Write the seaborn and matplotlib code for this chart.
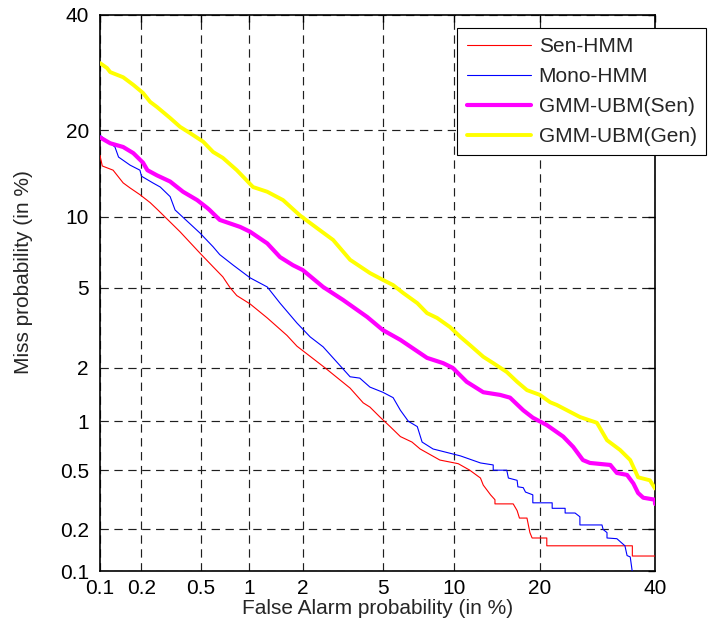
import numpy as np
import pandas as pd
import matplotlib
matplotlib.use("Agg")
import matplotlib.pyplot as plt
from matplotlib.ticker import FixedLocator, FixedFormatter, NullLocator
import seaborn as sns
from statistics import NormalDist

# DET curves: false alarm vs miss probability, both in percent
sen_hmm_fa = [0.1, 0.104, 0.125, 0.148, 0.166, 0.195, 0.23, 0.26, 0.367, 0.495,
              0.60, 0.69, 0.765, 0.84, 1.01, 1.27, 1.64, 1.86, 2.62, 3.5,
              4.05, 4.36, 4.85, 5.4, 6.0, 6.74, 7.3, 8.8, 10.4, 11.5,
              12.6, 12.9, 13.7, 14.2, 14.2, 16.4, 16.9, 17.2, 18.2, 18.6,
              18.9, 21.0, 21.0, 35.6, 35.6, 40.0]
sen_hmm_miss = [16.6, 15.3, 14.8, 13.35, 12.8, 12.1, 11.3, 10.6, 8.7, 7.1,
                6.2, 5.6, 5.0, 4.6, 4.2, 3.6, 2.95, 2.6, 2.0, 1.55,
                1.28, 1.21, 1.06, 0.93, 0.81, 0.75, 0.68, 0.58, 0.55, 0.50,
                0.445, 0.40, 0.345, 0.32, 0.30, 0.30, 0.27, 0.24, 0.24, 0.19,
                0.174, 0.174, 0.153, 0.153, 0.129, 0.129]

mono_hmm_fa = [0.1, 0.129, 0.137, 0.166, 0.195, 0.20, 0.24, 0.27, 0.315, 0.34,
               0.495, 0.60, 0.66, 0.80, 1.01, 1.27, 1.50, 1.86, 2.19, 2.56,
               3.5, 3.9, 4.36, 5.0, 5.57, 6.0, 6.5, 7.1, 7.44, 8.26,
               10.6, 12.6, 14.0, 14.0, 15.6, 15.8, 16.9, 17.0, 17.7, 18.0,
               19.0, 19.0, 21.8, 21.8, 23.8, 23.8, 25.4, 26.2, 26.2, 30.0,
               30.2, 30.9, 30.9, 32.7, 34.2, 34.6, 35.2, 35.6]
mono_hmm_miss = [19.3, 17.7, 16.4, 15.4, 14.8, 14.1, 13.35, 12.9, 11.9, 10.6,
                 8.6, 7.55, 7.0, 6.3, 5.54, 5.04, 4.24, 3.4, 2.9, 2.58,
                 1.79, 1.76, 1.57, 1.47, 1.37, 1.16, 1.0, 0.93, 0.75, 0.68,
                 0.616, 0.556, 0.54, 0.50, 0.50, 0.445, 0.43, 0.39, 0.385, 0.36,
                 0.345, 0.305, 0.305, 0.28, 0.28, 0.26, 0.26, 0.245, 0.215, 0.215,
                 0.2, 0.19, 0.174, 0.172, 0.153, 0.13, 0.127, 0.098]

gmm_sen_fa = [0.1, 0.119, 0.148, 0.175, 0.205, 0.22, 0.256, 0.315, 0.384, 0.475,
              0.55, 0.57, 0.66, 0.88, 1.01, 1.27, 1.50, 1.77, 2.0, 2.56,
              3.23, 4.23, 5.0, 6.0, 7.8, 9.07, 9.9, 11.2, 12.9, 14.8,
              16.0, 17.7, 19.0, 21.0, 23.5, 25.1, 26.7, 27.9, 31.5, 32.7,
              34.6, 35.8, 36.7, 37.7, 40.0, 40.0]
gmm_sen_miss = [19.0, 18.2, 17.7, 16.9, 15.7, 14.8, 14.2, 13.5, 12.4, 11.55,
                10.8, 10.6, 9.7, 9.1, 8.7, 7.8, 6.83, 6.3, 6.0, 5.04,
                4.39, 3.64, 3.14, 2.8, 2.26, 2.12, 2.0, 1.68, 1.47, 1.42,
                1.37, 1.16, 1.05, 0.95, 0.81, 0.70, 0.58, 0.556, 0.54, 0.48,
                0.466, 0.41, 0.355, 0.33, 0.32, 0.30]

gmm_gen_fa = [0.1, 0.113, 0.119, 0.148, 0.175, 0.205, 0.23, 0.256, 0.315, 0.367,
              0.427, 0.52, 0.60, 0.69, 0.84, 1.05, 1.27, 1.56, 1.93, 2.38,
              2.88, 3.5, 4.36, 5.0, 5.57, 6.17, 7.1, 7.8, 8.58, 9.65,
              10.6, 11.5, 12.9, 14.0, 15.6, 16.9, 18.2, 20.0, 21.5, 22.5,
              26.2, 29.1, 30.9, 33.3, 35.2, 36.7, 39.0, 40.0]
gmm_gen_miss = [30.9, 30.0, 29.3, 28.4, 27.1, 25.75, 24.3, 23.5, 21.8, 20.5,
                19.6, 18.4, 17.05, 16.3, 14.8, 12.9, 12.4, 11.55, 10.1, 9.0,
                8.06, 6.65, 5.82, 5.43, 5.14, 4.73, 4.24, 3.8, 3.6, 3.25,
                2.9, 2.64, 2.29, 2.12, 1.9, 1.68, 1.51, 1.42, 1.29, 1.245,
                1.06, 0.98, 0.77, 0.67, 0.58, 0.45, 0.43, 0.38]

tick_values = [0.1, 0.2, 0.5, 1, 2, 5, 10, 20, 40]
tick_labels = ["0.1", "0.2", "0.5", "1", "2", "5", "10", "20", "40"]

series = [
    ("Sen-HMM", sen_hmm_fa, sen_hmm_miss, "#ff0000", 0.8),
    ("Mono-HMM", mono_hmm_fa, mono_hmm_miss, "#0000ff", 0.8),
    ("GMM-UBM(Sen)", gmm_sen_fa, gmm_sen_miss, "#ff00ff", 3.0),
    ("GMM-UBM(Gen)", gmm_gen_fa, gmm_gen_miss, "#ffff00", 2.8),
]

sns.set_style("white")
plt.rcParams["font.family"] = ["Liberation Sans", "DejaVu Sans"]
plt.rcParams["lines.scale_dashes"] = False

_nd = NormalDist()


def probit(p):
    p = np.clip(np.asarray(p, dtype=float) / 100.0, 1e-9, 1 - 1e-9)
    return np.vectorize(_nd.inv_cdf, otypes=[float])(p)


def inv_probit(z):
    z = np.asarray(z, dtype=float)
    return np.vectorize(_nd.cdf, otypes=[float])(z) * 100.0


fig = plt.figure(figsize=(7.09, 6.30), dpi=100)
ax = fig.add_axes([100 / 709, 1 - 571 / 630, 555 / 709, 556 / 630])
ax.set_xscale("function", functions=(probit, inv_probit))
ax.set_yscale("function", functions=(probit, inv_probit))

for name, fa, miss, color, lw in series:
    df = pd.DataFrame({"fa": fa, "miss": miss})
    sns.lineplot(data=df, x="fa", y="miss", estimator=None, sort=False,
                 color=color, linewidth=lw, label=name, ax=ax, zorder=3)

ax.set_xlim(0.1, 40)
ax.set_ylim(0.1, 40)
for axis in (ax.xaxis, ax.yaxis):
    axis.set_major_locator(FixedLocator(tick_values))
    axis.set_major_formatter(FixedFormatter(tick_labels))
    axis.set_minor_locator(NullLocator())

ax.grid(True, which="major", color="0.12", linestyle=(0, (6, 4)), linewidth=0.85)
ax.set_axisbelow(True)
for sp in ax.spines.values():
    sp.set_visible(True)
    sp.set_color("black")
    sp.set_linewidth(1.2)

ax.tick_params(axis="both", which="major", direction="in", length=5, width=1,
               top=True, right=True, labelsize=15, colors="black")
ax.tick_params(axis="x", pad=6)
ax.tick_params(axis="y", pad=8)

ax.set_xlabel("False Alarm probability (in %)", fontsize=15)
ax.set_ylabel("Miss probability (in %)", fontsize=15)
ax.xaxis.set_label_coords(0.5, -0.05)
ax.yaxis.set_label_coords(-0.12, 0.538)

leg = ax.legend(loc="upper right", bbox_to_anchor=(706 / 709, 1 - 28 / 630),
                bbox_transform=fig.transFigure, borderaxespad=0,
                fontsize=15, frameon=True, fancybox=False, framealpha=1,
                edgecolor="black", handlelength=3.1, handletextpad=0.35,
                labelspacing=0.52, borderpad=0.45)
leg.get_frame().set_linewidth(0.8)

fig.savefig("out.png", dpi=100)
